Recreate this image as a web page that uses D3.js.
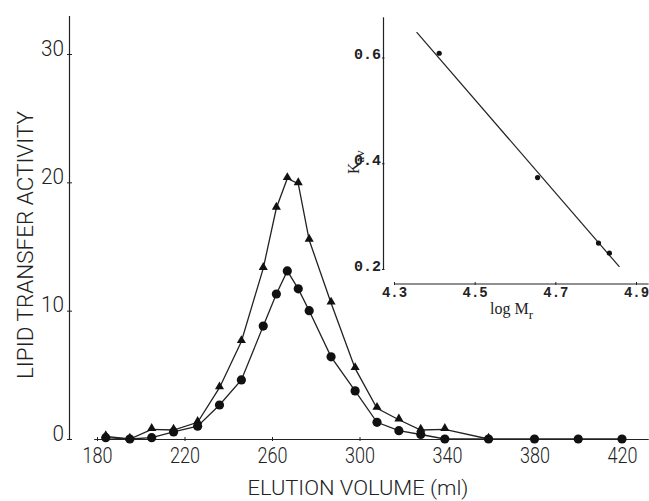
<!DOCTYPE html>
<html>
<head>
<meta charset="utf-8">
<script src="https://cdn.jsdelivr.net/npm/d3@7"></script>
<style>
  body { margin: 0; background: #fff; }
  svg { display: block; }
  .main text { font-family: Roboto, "DejaVu Sans Condensed", sans-serif; font-weight: 300; fill: #222; }
  .inset text { font-family: "Liberation Mono", "DejaVu Sans Mono", monospace; fill: #222; }
</style>
</head>
<body>
<div id="vis"></div>
<script>
// elution profile: fraction volume (ml) and lipid transfer activity
const fractionVolume = [184, 195, 205, 215, 226, 236, 246, 256, 262, 267, 272, 277, 287, 298, 308, 318, 328, 339, 359, 380, 400, 420];
const circleActivity = [0.1, 0, 0.1, 0.55, 1.0, 2.65, 4.6, 8.8, 11.3, 13.1, 11.7, 10.0, 6.4, 3.75, 1.3, 0.65, 0.35, 0, 0, 0, 0, 0];
const triangleActivity = [0.2, 0, 0.75, 0.7, 1.3, 4.0, 7.6, 13.3, 18.0, 20.3, 19.9, 15.5, 10.6, 5.5, 2.4, 1.5, 0.7, 0.75, 0];
const xTicks = [180, 220, 260, 300, 340, 380, 420];
const yTicks = [0, 10, 20, 30];

// inset: calibration of the column
const logMr = [4.412, 4.656, 4.807, 4.834];
const kav = [0.608, 0.373, 0.249, 0.230];
const fitLogMr = [4.356, 4.859];
const fitKav = [0.648, 0.204];
const insetXTicks = [4.3, 4.5, 4.7, 4.9];
const insetYTicks = [0.2, 0.4, 0.6];

const width = 649, height = 501;
const ink = "#222";

const svg = d3.select("#vis").append("svg")
  .attr("width", width)
  .attr("height", height);

// ---- main chart ----
const x = d3.scaleLinear().domain([180, 420]).range([97, 622]);
const y = d3.scaleLinear().domain([0, 30]).range([439, 54]);

const main = svg.append("g").attr("class", "main");

// y axis sits apart from the x axis, at x = 69
const yAxisScale = y.copy().domain([0, 33]).range([y(0), y(33)]);
const yAxis = main.append("g")
  .attr("transform", "translate(69,0)")
  .call(d3.axisLeft(yAxisScale).tickValues(yTicks).tickSizeOuter(0));
yAxis.select(".domain").attr("stroke", ink).attr("stroke-width", 1.2);
yAxis.selectAll(".tick line").attr("x1", -2).attr("x2", 3).attr("stroke", ink);
yAxis.selectAll(".tick text")
  .attr("x", -5).attr("dy", "0").attr("y", 1)
  .attr("textLength", d => String(d).length * 11.5)
  .attr("lengthAdjust", "spacingAndGlyphs")
  .style("font-size", "22px");

const xAxisScale = x.copy().domain([178.5, 432]).range([x(178.5), x(432)]);
const xAxis = main.append("g")
  .attr("transform", `translate(0,${y(0)})`)
  .call(d3.axisBottom(xAxisScale).tickValues(xTicks).tickSizeOuter(0));
xAxis.select(".domain").attr("stroke", ink).attr("stroke-width", 1.2);
xAxis.selectAll(".tick line").attr("y1", -2).attr("y2", 2).attr("stroke", ink);
xAxis.selectAll(".tick text")
  .attr("y", 24).attr("dy", "0")
  .attr("textLength", 30)
  .attr("lengthAdjust", "spacingAndGlyphs")
  .style("font-size", "22px");

main.append("text")
  .attr("transform", "translate(33,245) rotate(-90)")
  .attr("text-anchor", "middle")
  .attr("textLength", 268)
  .attr("lengthAdjust", "spacingAndGlyphs")
  .style("font-size", "22px")
  .text("LIPID TRANSFER ACTIVITY");

main.append("text")
  .attr("x", 358).attr("y", 495)
  .attr("text-anchor", "middle")
  .attr("textLength", 221)
  .attr("lengthAdjust", "spacingAndGlyphs")
  .style("font-size", "20px")
  .text("ELUTION VOLUME (ml)");

const line = d3.line().x(d => x(d[0])).y(d => y(d[1]));
const triPts = triangleActivity.map((v, i) => [fractionVolume[i], v]);
const circPts = circleActivity.map((v, i) => [fractionVolume[i], v]);

main.append("path")
  .datum(triPts)
  .attr("d", line)
  .attr("fill", "none")
  .attr("stroke", ink)
  .attr("stroke-width", 1.3);

main.append("path")
  .datum(circPts)
  .attr("d", line)
  .attr("fill", "none")
  .attr("stroke", ink)
  .attr("stroke-width", 1.3);

main.selectAll(".tri")
  .data(triPts)
  .join("path")
  .attr("class", "tri")
  .attr("d", d3.symbol(d3.symbolTriangle, 36))
  .attr("transform", d => `translate(${x(d[0])},${y(d[1]) - 1})`)
  .attr("fill", "#111");

main.selectAll(".circ")
  .data(circPts)
  .join("circle")
  .attr("class", "circ")
  .attr("cx", d => x(d[0]))
  .attr("cy", d => y(d[1]))
  .attr("r", 4.6)
  .attr("fill", "#111");

// ---- inset ----
const ix = d3.scaleLinear().domain([4.3, 4.9]).range([394, 636]);
const iy = d3.scaleLinear().domain([0.2, 0.6]).range([269, 57.5]);
const inset = svg.append("g").attr("class", "inset");

const iyAxisScale = iy.copy().domain([0.2, 0.677]).range([iy(0.2), iy(0.677)]);
const iyAxis = inset.append("g")
  .attr("transform", "translate(383,0)")
  .call(d3.axisLeft(iyAxisScale).tickValues(insetYTicks).tickSizeOuter(0).tickFormat(d3.format(".1f")));
iyAxis.select(".domain").attr("stroke", ink).attr("stroke-width", 1.2);
iyAxis.selectAll(".tick line").attr("x1", -1).attr("x2", 1.5).attr("stroke", ink);
iyAxis.selectAll(".tick text")
  .attr("x", -2).attr("dy", "0").attr("y", 1)
  .style("font-size", "15px").style("font-weight", "bold");

const ixAxisScale = ix.copy().domain([4.3, 4.93]).range([ix(4.3), ix(4.93)]);
const ixAxis = inset.append("g")
  .attr("transform", "translate(0,283.5)")
  .call(d3.axisBottom(ixAxisScale).tickValues(insetXTicks).tickSizeOuter(0).tickFormat(d3.format(".1f")));
ixAxis.select(".domain").attr("stroke", ink).attr("stroke-width", 1.2);
ixAxis.selectAll(".tick line").attr("y1", -1.5).attr("y2", 1.5).attr("stroke", ink);
ixAxis.selectAll(".tick text")
  .attr("y", 13.5).attr("dy", "0")
  .style("font-size", "14px").style("font-weight", "bold");

const xl = inset.append("text")
  .attr("x", 490).attr("y", 314)
  .style("font-family", "\"Liberation Serif\", \"DejaVu Serif\", serif")
  .style("font-size", "16px");
xl.append("tspan").text("log M");
xl.append("tspan").attr("dy", 5).style("font-size", "13px").text("r");

const yl = inset.append("text")
  .attr("transform", "translate(359,174) rotate(-90)")
  .style("font-family", "\"Liberation Serif\", \"DejaVu Serif\", serif")
  .style("font-size", "16px");
yl.append("tspan").text("K");
yl.append("tspan").attr("dy", 5).style("font-size", "13px").text("av");

inset.append("line")
  .attr("x1", ix(fitLogMr[0])).attr("y1", iy(fitKav[0]))
  .attr("x2", ix(fitLogMr[1])).attr("y2", iy(fitKav[1]))
  .attr("stroke", ink)
  .attr("stroke-width", 1.2);

inset.selectAll(".pt")
  .data(logMr.map((v, i) => [v, kav[i]]))
  .join("circle")
  .attr("class", "pt")
  .attr("cx", d => ix(d[0]))
  .attr("cy", d => iy(d[1]))
  .attr("r", 2.6)
  .attr("fill", "#111");
</script>
</body>
</html>
